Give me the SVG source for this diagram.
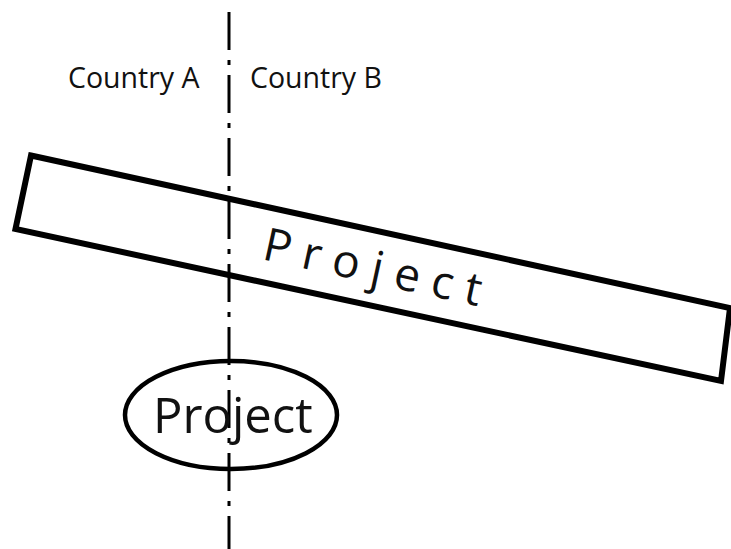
<svg xmlns="http://www.w3.org/2000/svg" width="731" height="549" viewBox="0 0 731 549">
  <style>
    .lbl { font-family: "Open Sans", "Liberation Sans", sans-serif; fill: #111; }
    .shape { fill: #fff; stroke: #000; stroke-linejoin: miter; }
    .border { stroke: #000; stroke-width: 3; fill: none; stroke-dasharray: 38 10 5 10; }
  </style>
  <rect width="731" height="549" fill="#fff"/>

  <!-- cross-border project (tilted bar) -->
  <g id="project-bar">
    <polygon class="shape" points="31,155.5 730,308 721,381 15.5,229" stroke-width="6"/>
    <text class="lbl" transform="translate(261,259) rotate(12.3)" font-size="46" letter-spacing="12">Project</text>
  </g>

  <!-- project straddling the border -->
  <g id="project-ellipse">
    <ellipse class="shape" cx="231" cy="415" rx="106" ry="54" stroke-width="4.5"/>
  </g>

  <!-- national border -->
  <g id="connectors">
    <line class="border" x1="229" y1="12" x2="229" y2="549"/>
  </g>

  <g id="project-ellipse-label">
    <text class="lbl" x="153" y="433" font-size="49">Project</text>
  </g>

  <g id="country-a">
    <text class="lbl" x="68" y="88" font-size="28.5">Country A</text>
  </g>
  <g id="country-b">
    <text class="lbl" x="250" y="88" font-size="28.5">Country B</text>
  </g>
</svg>
